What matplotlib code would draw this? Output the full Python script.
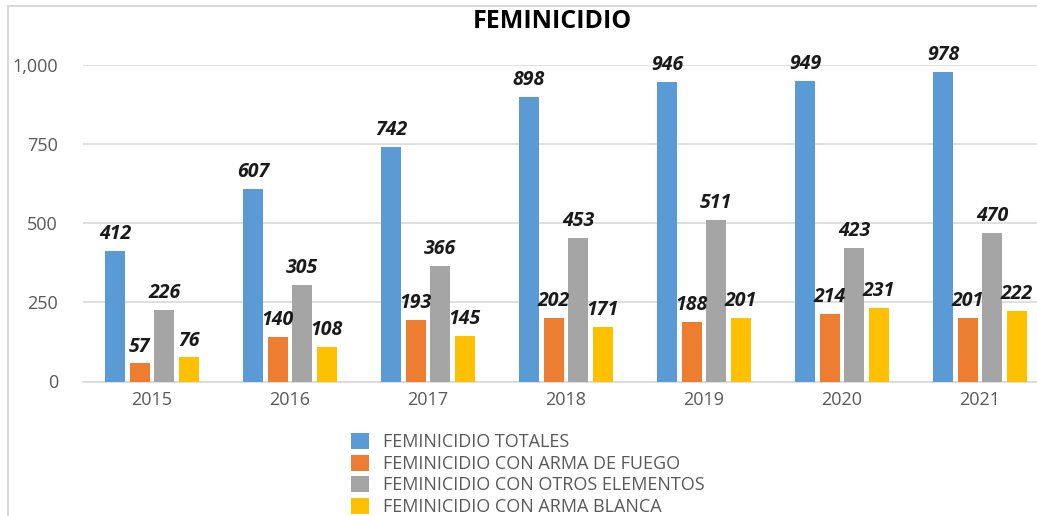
import matplotlib
matplotlib.use("Agg")
import matplotlib.pyplot as plt
import matplotlib.patches as mpatches
import numpy as np

years = ["2015", "2016", "2017", "2018", "2019", "2020", "2021"]
totales = [412, 607, 742, 898, 946, 949, 978]
arma_fuego = [57, 140, 193, 202, 188, 214, 201]
otros = [226, 305, 366, 453, 511, 423, 470]
arma_blanca = [76, 108, 145, 171, 201, 231, 222]

series_names = ["FEMINICIDIO TOTALES", "FEMINICIDIO CON ARMA DE FUEGO",
                "FEMINICIDIO CON OTROS ELEMENTOS", "FEMINICIDIO CON ARMA BLANCA"]
series_vals = [totales, arma_fuego, otros, arma_blanca]
colors = ["#5B9BD5", "#ED7D31", "#A5A5A5", "#FFC000"]

plt.rcParams['font.family'] = ['Open Sans', 'DejaVu Sans']

W, H = 1037, 516
fig = plt.figure(figsize=(W / 100, H / 100), dpi=100)
ax = fig.add_axes([83 / W, 1 - 381.5 / H, (W - 83) / W, (381.5 - 65) / H])

x = np.arange(len(years))
step = 0.178
width = 0.145
handles = []
for i, (vals, c) in enumerate(zip(series_vals, colors)):
    off = (i - 1.5) * step
    bars = ax.bar(x + off, vals, width=width, color=c, zorder=3)
    handles.append(bars)
    for xi, v in zip(x + off, vals):
        ax.annotate(str(v), (xi, v), xytext=(0, 5), textcoords="offset points",
                    ha="center", va="bottom", fontsize=14, fontweight="bold",
                    fontstyle="italic", color="#1a1a1a", zorder=5)

ax.set_xlim(-0.5, 6.414)
ax.set_ylim(0, 1000)
ax.set_yticks([0, 250, 500, 750, 1000])
ax.set_yticklabels(["0", "250", "500", "750", "1,000"])
ax.set_xticks(x)
ax.set_xticklabels(years)
ax.grid(axis="y", color="#d9d9d9", linewidth=1.2, zorder=0)
for s in ["top", "right", "left"]:
    ax.spines[s].set_visible(False)
ax.spines["bottom"].set_color("#d9d9d9")
ax.spines["bottom"].set_linewidth(1.2)
ax.tick_params(axis="both", length=0, labelcolor="#595959", labelsize=13)
ax.tick_params(axis="y", pad=18)
ax.tick_params(axis="x", pad=7)

fig.text(552 / W, 1 - 22 / H, "FEMINICIDIO", ha="center", va="center",
         fontsize=18, fontweight="bold", color="#000000")

leg = fig.legend(handles, series_names, loc="upper left",
                 bbox_to_anchor=(351 / W, 1 - 433 / H), frameon=False,
                 handlelength=1.0, handleheight=1.0, handletextpad=0.75,
                 labelspacing=0.18, fontsize=13, borderpad=0, borderaxespad=0)
for t in leg.get_texts():
    t.set_color("#595959")

frame = mpatches.Rectangle((8 / W, -0.1), 2, (H - 6) / H + 0.1, fill=False,
                           edgecolor="#d9d9d9", linewidth=1.5,
                           transform=fig.transFigure)
fig.add_artist(frame)

fig.savefig("out.png", dpi=100)
